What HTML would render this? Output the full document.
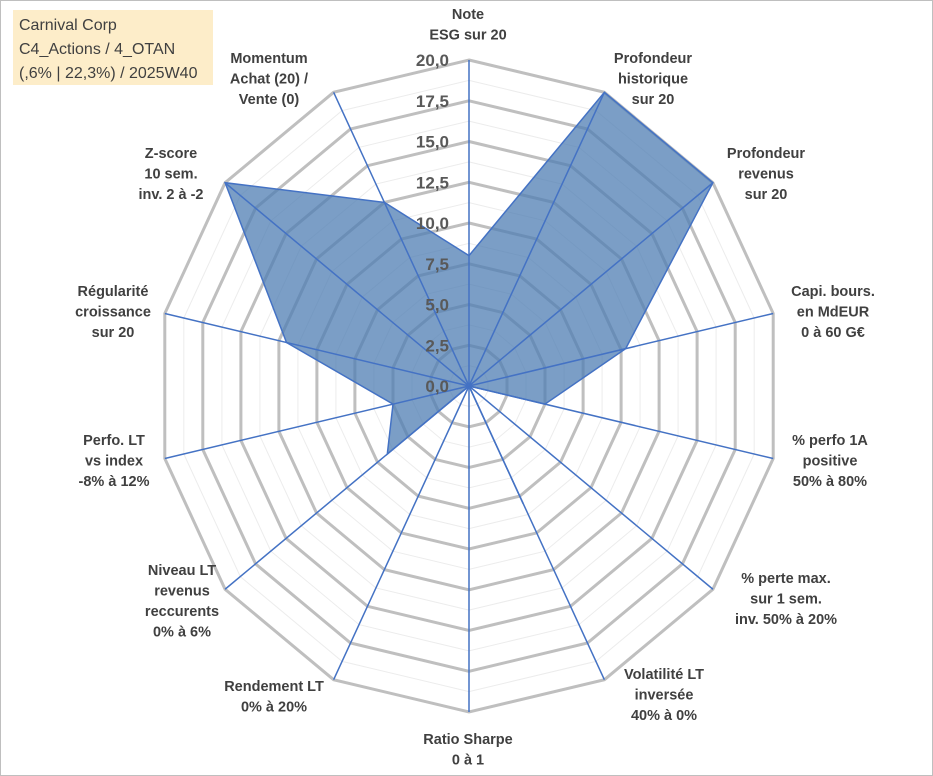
<!DOCTYPE html>
<html><head><meta charset="utf-8"><style>
html,body{margin:0;padding:0;background:#fff;}
svg{display:block;font-family:"Liberation Sans",sans-serif;}
</style></head><body>
<svg id="chart" width="933" height="776" viewBox="0 0 933 776">
<rect x="0.5" y="0.5" width="932" height="775" fill="#fff" stroke="#bfbfbf"/>
<g>
<rect x="13" y="10" width="200" height="75" fill="#fdedc9"/>
<text x="19" y="30" font-size="16" fill="#404040">Carnival Corp</text>
<text x="19" y="54" font-size="16" fill="#404040">C4_Actions / 4_OTAN</text>
<text x="19" y="78" font-size="16" fill="#404040">(,6% | 22,3%) / 2025W40</text>
</g>
<g id="grid"></g><g id="series"></g><g id="axes"></g><g id="labels"></g>
</svg>
<script>
const categories = [
 ["Note","ESG sur 20"],
 ["Profondeur","historique","sur 20"],
 ["Profondeur","revenus","sur 20"],
 ["Capi. bours.","en MdEUR","0 à 60 G€"],
 ["% perfo 1A","positive","50% à 80%"],
 ["% perte max.","sur 1 sem.","inv. 50% à 20%"],
 ["Volatilité LT","inversée","40% à 0%"],
 ["Ratio Sharpe","0 à 1"],
 ["Rendement LT","0% à 20%"],
 ["Niveau LT","revenus","reccurents","0% à 6%"],
 ["Perfo. LT","vs index","-8% à 12%"],
 ["Régularité","croissance","sur 20"],
 ["Z-score","10 sem.","inv. 2 à -2"],
 ["Momentum","Achat (20) /","Vente (0)"]
];
const values = [8, 20, 20, 10.3, 5, 0, 8, 0, 0, 6.7, 5, 12, 20, 12.5];
const tickValues = [0, 2.5, 5, 7.5, 10, 12.5, 15, 17.5, 20];
const tickLabels = ["0,0","2,5","5,0","7,5","10,0","12,5","15,0","17,5","20,0"];
const labelPos = [[468,14],[653,58],[766,153],[833,291],[830,440],[786,578],[664,674],[468,739],[274,686],[182,570],[114,440],[113,291],[171,153],[269,58]];

const NS="http://www.w3.org/2000/svg";
const cx=469, cy=386, rx=312, ry=326, maxV=20, N=categories.length;
function ang(i){return i*2*Math.PI/N;}
function px(i,v){return cx+Math.sin(ang(i))*rx*v/maxV;}
function py(i,v){return cy-Math.cos(ang(i))*ry*v/maxV;}
function mk(tag,attrs,parent){const e=document.createElementNS(NS,tag);for(const k in attrs)e.setAttribute(k,attrs[k]);parent.appendChild(e);return e;}
const grid=document.getElementById('grid'),ser=document.getElementById('series'),axes=document.getElementById('axes'),labels=document.getElementById('labels');
// minor rings
for(let t=1.25;t<20;t+=2.5){
 const pts=categories.map((c,i)=>px(i,t).toFixed(1)+","+py(i,t).toFixed(1)).join(" ");
 const p=mk('polygon',{points:pts,fill:'none',stroke:'#ececec','stroke-width':1},grid);
 
 
}
tickValues.forEach((t,k)=>{
 if(t===0)return;
 const pts=categories.map((c,i)=>px(i,t).toFixed(1)+","+py(i,t).toFixed(1)).join(" ");
 const p=mk('polygon',{points:pts,fill:'none',stroke:'#bfbfbf','stroke-width':3},grid);
 
 
});
const spts=values.map((v,i)=>px(i,v).toFixed(1)+","+py(i,v).toFixed(1)).join(" ");
const poly=mk('polygon',{points:spts,fill:'#4f7eb3','fill-opacity':0.75,stroke:'#4472c4','stroke-width':1.5,'stroke-linejoin':'miter'},ser);


categories.forEach((c,i)=>{
 const l=mk('line',{x1:cx,y1:cy,x2:px(i,maxV),y2:py(i,maxV),stroke:'#4472c4','stroke-width':1.5},axes);
 
 
 const t=mk('text',{x:labelPos[i][0],'text-anchor':'middle','font-size':14.5,'font-weight':'bold',fill:'#404040'},labels);
 
 
 c.forEach((line,j)=>{const s=mk('tspan',{x:labelPos[i][0],y:labelPos[i][1]+5+j*20.5},t);s.textContent=line;});
});
tickValues.forEach((t,k)=>{
 const e=mk('text',{x:449,y:py(0,t)+6,'text-anchor':'end','font-size':17,'font-weight':'bold',fill:'#595959'},labels);
 
 
 e.textContent=tickLabels[k];
});
</script>
</body></html>
